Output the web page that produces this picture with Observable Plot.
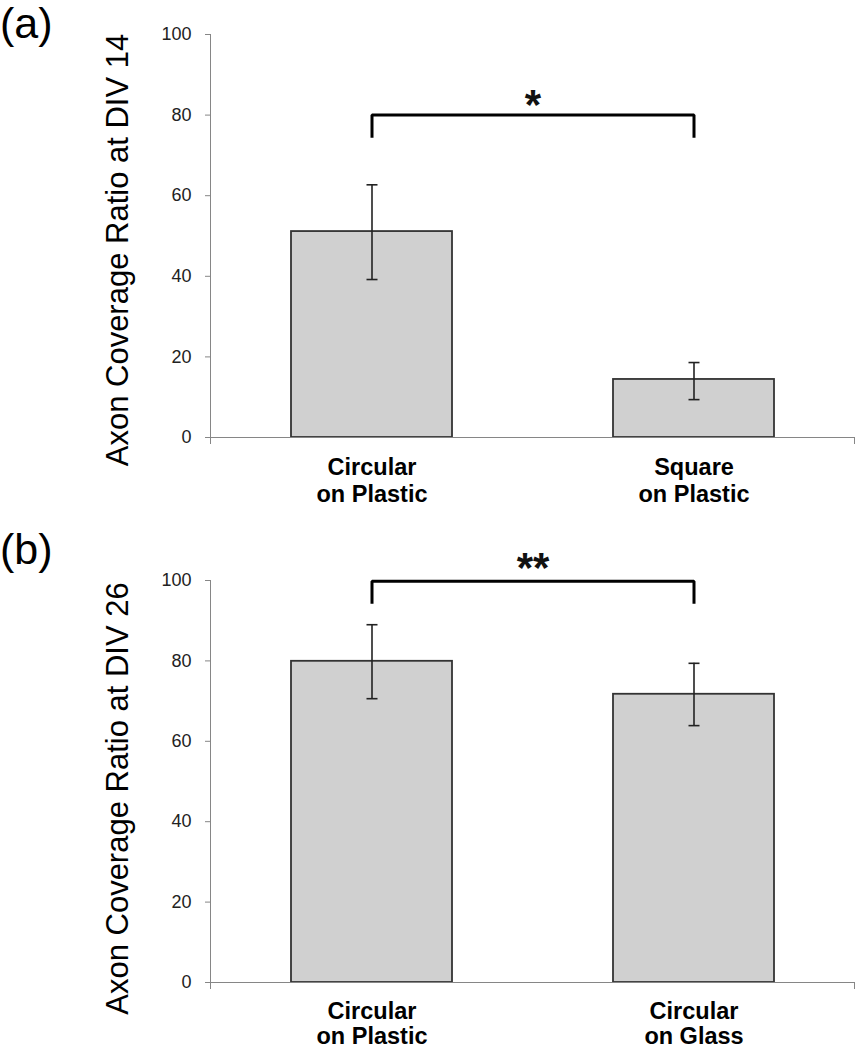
<!DOCTYPE html>
<html>
<head>
<meta charset="utf-8">
<script src="https://cdn.jsdelivr.net/npm/d3@7"></script>
<script src="https://cdn.jsdelivr.net/npm/@observablehq/plot@0.6"></script>
<style>
  body { margin: 0; background: #fff; }
  #wrap { position: relative; width: 861px; height: 1050px; overflow: hidden; }
  .panel { position: relative; width: 861px; height: 525px; }
  .tag { position: absolute; left: 0px; top: 0px; font-family: "Liberation Sans", Arial, sans-serif; font-size: 43px; line-height: 43px; color: #000; }
  svg { display: block; }
</style>
</head>
<body>
<div id="wrap"></div>
<script>
// ---- Data ----
const panelTags = ["(a)", "(b)"];
const yTitles = ["Axon Coverage Ratio at DIV 14", "Axon Coverage Ratio at DIV 26"];
const yTicks = [0, 20, 40, 60, 80, 100];

const categoriesA = ["Circular\non Plastic", "Square\non Plastic"];
const meansA = [51.1, 14.4];
const lowA = [39.2, 9.4];
const highA = [62.7, 18.6];
const sigA = {label: "*", top: 80, leg: 74.4};

const categoriesB = ["Circular\non Plastic", "Circular\non Glass"];
const meansB = [79.9, 71.7];
const lowB = [70.6, 63.9];
const highB = [89.0, 79.4];
const sigB = {label: "**", top: 99.8, leg: 94.2};

// ---- Styling ----
const AXIS = "#868686";
const FONT = '"Liberation Sans", Arial, Helvetica, sans-serif';

const capSymbol = {
  draw(context, size) {
    const w = Math.sqrt(size / Math.PI);
    context.moveTo(-w, 0);
    context.lineTo(w, 0);
  }
};

function axisFrame(index, scales, values, dims) {
  const {marginLeft, marginRight, marginTop, marginBottom, width, height} = dims;
  const y0 = height - marginBottom;
  const xL = marginLeft + 0.5, xR = width - marginRight - 0.5;
  const g = d3.create("svg:g").attr("stroke", AXIS).attr("stroke-width", 1).attr("fill", "none");
  g.append("path").attr("d", `M${xL},${marginTop}V${y0 + 7}M${xR},${y0}V${y0 + 7}`);
  return g.node();
}

function makePanel(cats, means, lows, highs, sig, title, opts) {
  const rows = cats.map((c, i) => ({cat: c, mean: means[i], low: lows[i], high: highs[i]}));
  const bracket = [
    {cat: cats[0], y: sig.leg},
    {cat: cats[0], y: sig.top},
    {cat: cats[1], y: sig.top},
    {cat: cats[1], y: sig.leg}
  ];
  return Plot.plot({
    width: 861,
    height: 525,
    marginLeft: 210,
    marginRight: 6,
    marginTop: opts.marginTop,
    marginBottom: opts.marginBottom,
    style: {fontFamily: FONT, background: "white", overflow: "visible"},
    x: {domain: cats, paddingInner: 0.5, paddingOuter: 0.25, axis: null},
    y: {domain: [0, 100], axis: null},
    marks: [
      Plot.barY(rows, {x: "cat", y: "mean", fill: "#d0d0d0", stroke: "#333", strokeWidth: 1.8}),
      Plot.ruleY([0], {stroke: AXIS, strokeWidth: 1}),
      axisFrame,
      Plot.axisY(yTicks, {tickSize: 5, tickPadding: 14, fontSize: 18, stroke: AXIS, fill: "#222", label: null, tickFormat: d => String(d)}),
      Plot.ruleX(rows, {x: "cat", y1: "low", y2: "high", stroke: "#222", strokeWidth: 1.6}),
      Plot.dot(rows, {x: "cat", y: "high", symbol: capSymbol, r: 5.5, stroke: "#222", strokeWidth: 1.6, fill: "none"}),
      Plot.dot(rows, {x: "cat", y: "low", symbol: capSymbol, r: 5.5, stroke: "#222", strokeWidth: 1.6, fill: "none"}),
      Plot.line(bracket, {x: "cat", y: "y", stroke: "#000", strokeWidth: 3, strokeLinejoin: "miter", strokeLinecap: "butt"}),
      Plot.text([sig], {y: "top", text: "label", fontSize: 42, fontWeight: "bold", fill: "#111", dy: opts.starDy}),
      Plot.text(cats, {x: d => d, text: d => d, frameAnchor: "bottom", lineAnchor: "top", dy: opts.labelDy, fontSize: 23.5, fontWeight: "bold", lineHeight: opts.labelLH, fill: "#000"}),
      Plot.text([title], {text: d => d, frameAnchor: "left", textAnchor: "middle", rotate: -90, dx: -92, dy: opts.titleDy, fontSize: 31, fill: "#000"})
    ]
  });
}

const wrap = document.getElementById("wrap");
const panels = [
  makePanel(categoriesA, meansA, lowA, highA, sigA, yTitles[0], {marginTop: 34, marginBottom: 88, titleDy: 14, starDy: -10, labelDy: 19, labelLH: 1.12}),
  makePanel(categoriesB, meansB, lowB, highB, sigB, yTitles[1], {marginTop: 55, marginBottom: 68, titleDy: 17, starDy: -13, labelDy: 18, labelLH: 1.08})
];
panels.forEach((svg, i) => {
  const div = document.createElement("div");
  div.className = "panel";
  div.appendChild(svg);
  const tag = document.createElement("div");
  tag.className = "tag";
  tag.textContent = panelTags[i];
  tag.style.top = i === 0 ? "2px" : "3px";
  div.appendChild(tag);
  wrap.appendChild(div);
});
</script>
</body>
</html>
